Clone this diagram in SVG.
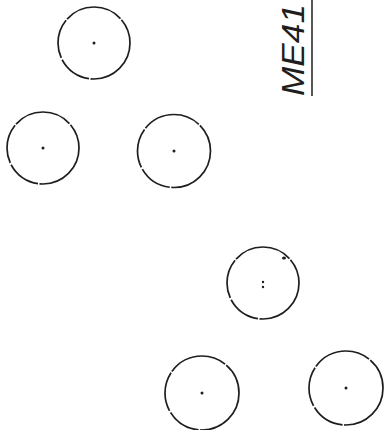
<svg xmlns="http://www.w3.org/2000/svg" width="388" height="430" viewBox="0 0 388 430">
<style>
.c{fill:none;stroke:#1e1e1e;stroke-width:1.7;stroke-dasharray:60 1.5 34 2 40 1.5}
.d{fill:#1e1e1e}
.t{font-family:"Liberation Sans",Arial,sans-serif;font-size:32px;fill:#1e1e1e;font-style:italic}
</style>
<rect width="388" height="430" fill="#fff"/>
<g id="label">
<text class="t" transform="translate(304,96) rotate(-90)" x="0" y="0" textLength="92" lengthAdjust="spacingAndGlyphs">ME41</text>
<line x1="312" y1="0" x2="312" y2="96" stroke="#1e1e1e" stroke-width="1.5"/>
</g>
<g id="n1"><circle class="c" cx="94" cy="43" r="36"/><circle class="d" cx="94" cy="43" r="1.5"/></g>
<g id="n2"><circle class="c" cx="43" cy="148" r="36"/><circle class="d" cx="43" cy="148" r="1.5"/></g>
<g id="n3"><circle class="c" cx="174" cy="151" r="36.5"/><circle class="d" cx="174" cy="151" r="1.5"/></g>
<g id="n4"><circle class="c" cx="263" cy="283" r="36"/><circle class="d" cx="263" cy="282" r="1.2"/><circle class="d" cx="263" cy="287" r="1.2"/><ellipse class="d" cx="284" cy="258" rx="2" ry="1.5"/></g>
<g id="n5"><circle class="c" cx="202" cy="393" r="37"/><circle class="d" cx="202" cy="393" r="1.5"/></g>
<g id="n6"><circle class="c" cx="346" cy="388" r="37"/><circle class="d" cx="346" cy="388" r="1.5"/></g>
<g id="connectors"></g>
</svg>
